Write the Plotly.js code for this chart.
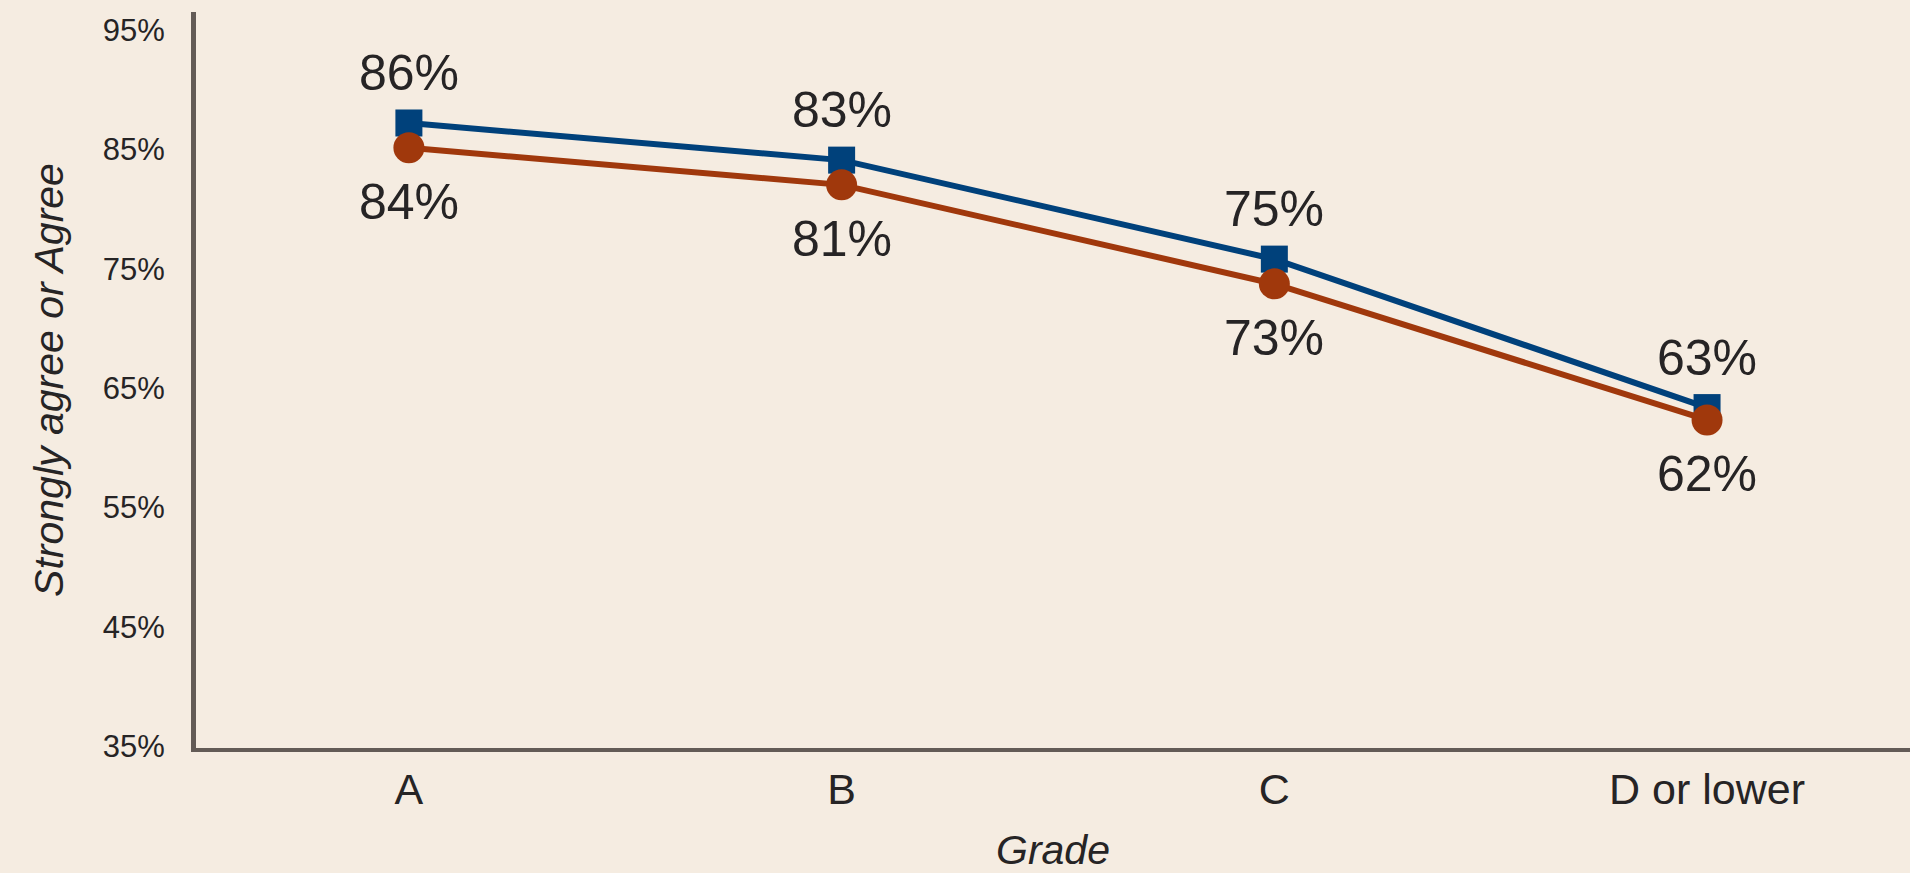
<!DOCTYPE html>
<html>
<head>
<meta charset="utf-8">
<script src="https://cdn.plot.ly/plotly-3.0.1.min.js"></script>
<style>html,body{margin:0;padding:0;background:#f5ece1;}#chart{width:1910px;height:873px;}</style>
</head>
<body>
<div id="chart"></div>
<script>
const grades = ['A', 'B', 'C', 'D or lower'];
const seriesBlue = [86, 83, 75, 63];
const seriesOrange = [84, 81, 73, 62];
const yTickValues = [35, 45, 55, 65, 75, 85, 95];
const yTickLabels = ['35%', '45%', '55%', '65%', '75%', '85%', '95%'];

const FONT = '"Liberation Sans", Arial, sans-serif';
const TEXT = '#262425';
const BG = '#f5ece1';
const BLUE = '#00417b';
const ORANGE = '#a0380c';

const traces = [
  {
    // invisible helper so the labelled y axis is drawn
    x: yTickValues.map(() => grades[0]), y: yTickValues, yaxis: 'y', type: 'scatter',
    mode: 'markers', marker: {opacity: 0, size: 1}, hoverinfo: 'skip', showlegend: false
  },
  {
    x: grades, y: seriesBlue, name: 'Series 1', type: 'scatter', mode: 'lines+markers',
    yaxis: 'y2',
    line: {color: BLUE, width: 6},
    marker: {symbol: 'square', size: 27, color: BLUE},
    cliponaxis: false, hoverinfo: 'x+y'
  },
  {
    x: grades, y: seriesOrange, name: 'Series 2', type: 'scatter', mode: 'lines+markers',
    yaxis: 'y2',
    line: {color: ORANGE, width: 6},
    marker: {symbol: 'circle', size: 31, color: ORANGE},
    cliponaxis: false, hoverinfo: 'x+y'
  }
];

const annotations = [];
grades.forEach((g, i) => {
  annotations.push({x: g, y: seriesBlue[i], xref: 'x', yref: 'y2', text: seriesBlue[i] + '%',
    showarrow: false, yshift: 50, xanchor: 'center', yanchor: 'middle',
    font: {family: FONT, size: 50, color: TEXT}});
  annotations.push({x: g, y: seriesOrange[i], xref: 'x', yref: 'y2', text: seriesOrange[i] + '%',
    showarrow: false, yshift: -54, xanchor: 'center', yanchor: 'middle',
    font: {family: FONT, size: 50, color: TEXT}});
});

const layout = {
  width: 1910, height: 873,
  margin: {l: 196, r: 0, t: 12, b: 125},
  paper_bgcolor: BG, plot_bgcolor: BG,
  showlegend: false,
  font: {family: FONT, color: TEXT},
  annotations: annotations,
  xaxis: {
    type: 'category', range: [-0.492, 3.469],
    showline: true, linewidth: 4, linecolor: '#635b56',
    showgrid: false, zeroline: false, ticks: '',
    tickfont: {family: FONT, size: 43, color: TEXT},
    title: {text: 'Grade', font: {family: FONT, size: 41, style: 'italic', color: TEXT}, standoff: 28}
  },
  yaxis: {
    range: [34.83, 96.51],
    tickvals: yTickValues, ticktext: yTickLabels,
    showline: true, linewidth: 5, linecolor: '#635b56',
    showgrid: false, zeroline: false, ticks: '',
    ticklabelstandoff: 20,
    tickfont: {family: FONT, size: 31, color: TEXT},
    title: {text: 'Strongly agree or Agree', font: {family: FONT, size: 41, style: 'italic', color: TEXT}, standoff: 28}
  },
  yaxis2: {
    range: [35.49, 94.97], overlaying: 'y', visible: false, showgrid: false, zeroline: false
  }
};

Plotly.newPlot('chart', traces, layout, {displayModeBar: false, staticPlot: true});
</script>
</body>
</html>
